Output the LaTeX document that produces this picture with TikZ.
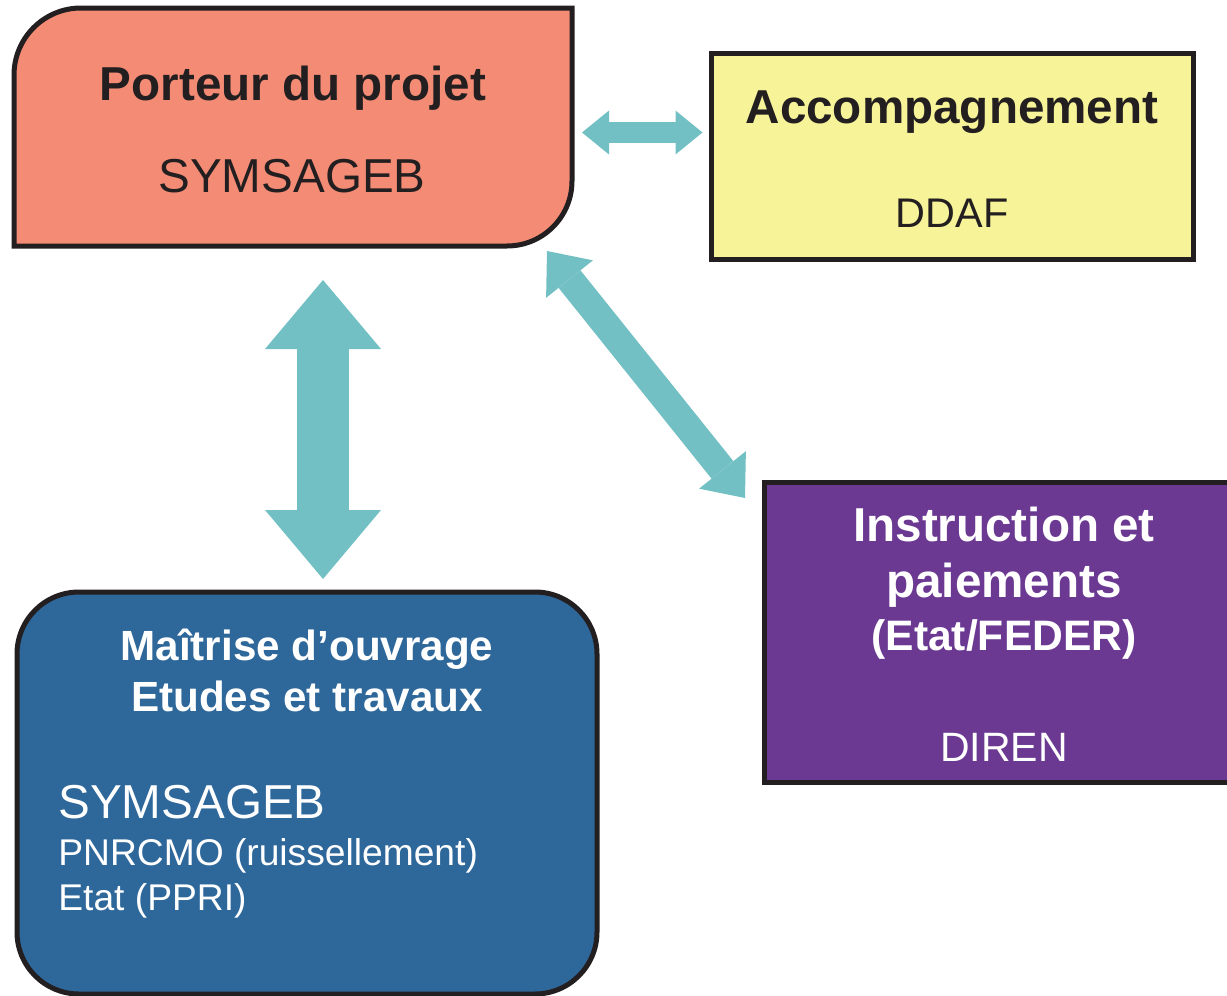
\documentclass[tikz,border=0pt]{standalone}
\usepackage{fontspec}
\setmainfont{Liberation Sans}
\usetikzlibrary{arrows.meta}
\definecolor{boxsalmon}{RGB}{244,140,117}
\definecolor{boxyellow}{RGB}{247,243,153}
\definecolor{boxpurple}{RGB}{107,57,146}
\definecolor{boxblue}{RGB}{46,103,154}
\definecolor{arrowteal}{RGB}{115,192,196}
\definecolor{borderdark}{RGB}{35,31,32}

\begin{document}
\begin{tikzpicture}[x=0.5pt, y=-0.5pt,
		box/.style={draw=borderdark, line width=2.5pt},
		title/.style={anchor=base, inner sep=0pt, text=borderdark, font=\bfseries\fontsize{#1}{#1}\selectfont},
		title/.default=23.8,
		plain/.style={anchor=base, inner sep=0pt, text=borderdark, font=\fontsize{#1}{#1}\selectfont},
		plain/.default=23.8,
		blockarrow/.style n args={3}{draw=arrowteal, line width=#1, line cap=butt,
			>={Triangle[width=#2, length=#3, line width=0pt]}, <->}]
			%%%%% START %%%%%
			
			\useasboundingbox (0,0) rectangle (1227,996);
			\clip (0,0) rectangle (1227,996);
			
			% Porteur du projet
			\draw[box, fill=boxsalmon] (14,246) -- (14,75) arc (180:270:67) -- (572,8) -- (572,181) arc (0:90:65) -- cycle;
			\node[title] (porteur) at (293,100) {Porteur du projet};
			\node[plain] (symporteur) at (292,192) {SYMSAGEB};
			
			% Accompagnement
			\draw[box, fill=boxyellow] (711,53) rectangle (1193,259);
			\node[title] (accomp) at (952,123) {Accompagnement};
			\node[plain=20.7] (ddaf) at (952,227) {DDAF};
			
			% Instruction et paiements
			\draw[box, fill=boxpurple] (764,482) rectangle (1245,782);
			\node[title, text=white] (instr) at (1004,541) {Instruction et};
			\node[title, text=white] (paie) at (1004,597) {paiements};
			\node[title=21.3, text=white] (feder) at (1004,650) {(Etat/FEDER)};
			\node[plain=20.5, text=white] (diren) at (1004,761) {DIREN};
			
			% Maitrise d'ouvrage
			\draw[box, fill=boxblue, rounded corners=31pt] (17,592) rectangle (597,994);
			\node[title=21.1, text=white] (maitrise) at (307,660) {Maîtrise d’ouvrage};
			\node[title=21.1, text=white] (etudes) at (307,711) {Etudes et travaux};
			\node[plain, text=white, anchor=base west] (symmo) at (58,818) {SYMSAGEB};
			\node[plain=18.6, text=white, anchor=base west] (pnr) at (58,865) {PNRCMO (ruissellement)};
			\node[plain=18.6, text=white, anchor=base west] (ppri) at (58,910) {Etat (PPRI)};
			
			% liens
			\coordinate (hA) at (582,132.5);
			\coordinate (hB) at (702.5,132.5);
			\coordinate (vA) at (323,280);
			\coordinate (vB) at (323,579);
			\coordinate (dA) at (547,251);
			\coordinate (dB) at (745,498);
			
			\draw[blockarrow={10.5pt}{22pt}{13.5pt}] (hA) -- (hB);
			\draw[blockarrow={26pt}{58pt}{34.5pt}] (vA) -- (vB);
			\draw[blockarrow={14pt}{30pt}{18pt}] (dA) -- (dB);
			
			%%%%% END %%%%%
		\end{tikzpicture}
\end{document}
